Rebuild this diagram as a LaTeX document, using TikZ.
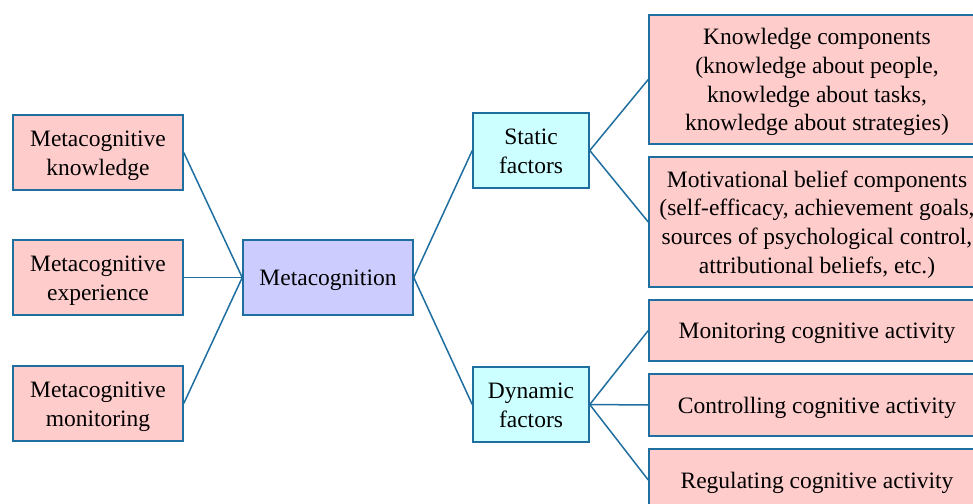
\documentclass[tikz,border=0pt]{standalone}
\usepackage{fontspec}
\setmainfont{Liberation Serif}
\definecolor{edgeblue}{RGB}{31,110,160}
\definecolor{pinkfill}{RGB}{255,204,204}
\definecolor{violetfill}{RGB}{204,204,255}
\definecolor{cyanfill}{RGB}{204,255,255}
\newcommand\boxtext[1]{\raisebox{-2.5pt}[\height][\depth]{\begin{tabular}{@{}c@{}}#1\end{tabular}}}
\tikzset{
  box/.style={draw=edgeblue, line width=1.5pt, inner sep=0pt,
    font=\fontsize{23.5}{28.8}\selectfont, text=black},
  pinkbox/.style={box, fill=pinkfill},
  link/.style={draw=edgeblue, line width=1.5pt}
}
\begin{document}
\begin{tikzpicture}[x=1pt,y=-1pt]
\useasboundingbox (0,0) rectangle (973,503);
\clip (0,0) rectangle (973,503);
\node[pinkbox, minimum width=170pt, minimum height=75pt] (mk) at (98,152.5) {\boxtext{Metacognitive\\knowledge}};
\node[pinkbox, minimum width=170pt, minimum height=75pt] (me) at (98,277.5) {\boxtext{Metacognitive\\experience}};
\node[pinkbox, minimum width=170pt, minimum height=75pt] (mm) at (98,403.5) {\boxtext{Metacognitive\\monitoring}};
\node[box, fill=violetfill, minimum width=170pt, minimum height=75pt] (meta) at (328,277.5) {\boxtext{Metacognition}};
\node[box, fill=cyanfill, minimum width=116pt, minimum height=75pt] (st) at (531,150.5) {\boxtext{Static\\factors}};
\node[box, fill=cyanfill, minimum width=116pt, minimum height=75pt] (dy) at (531,404.5) {\boxtext{Dynamic\\factors}};
\node[pinkbox, minimum width=336pt, minimum height=129pt] (kc) at (817,79.5) {\boxtext{Knowledge components\\(knowledge about people,\\knowledge about tasks,\\knowledge about strategies)}};
\node[pinkbox, minimum width=336pt, minimum height=130pt] (mb) at (817,222) {\boxtext{Motivational belief components\\(self-efficacy, achievement goals,\\sources of psychological control,\\attributional beliefs, etc.)}};
\node[pinkbox, minimum width=336pt, minimum height=61pt] (mon) at (817,330.5) {\boxtext{Monitoring cognitive activity}};
\node[pinkbox, minimum width=336pt, minimum height=62pt] (con) at (817,405) {\boxtext{Controlling cognitive activity}};
\node[pinkbox, minimum width=336pt, minimum height=62pt] (reg) at (817,480) {\boxtext{Regulating cognitive activity}};
\draw[link] (mk.east) -- (meta.west);
\draw[link] (me.east) -- (meta.west);
\draw[link] (mm.east) -- (meta.west);
\draw[link] (meta.east) -- (st.west);
\draw[link] (meta.east) -- (dy.west);
\draw[link] (st.east) -- (kc.west);
\draw[link] (st.east) -- (mb.west);
\draw[link] (dy.east) -- (mon.west);
\draw[link] (dy.east) -- (con.west);
\draw[link] (dy.east) -- (reg.west);
\end{tikzpicture}
\end{document}
